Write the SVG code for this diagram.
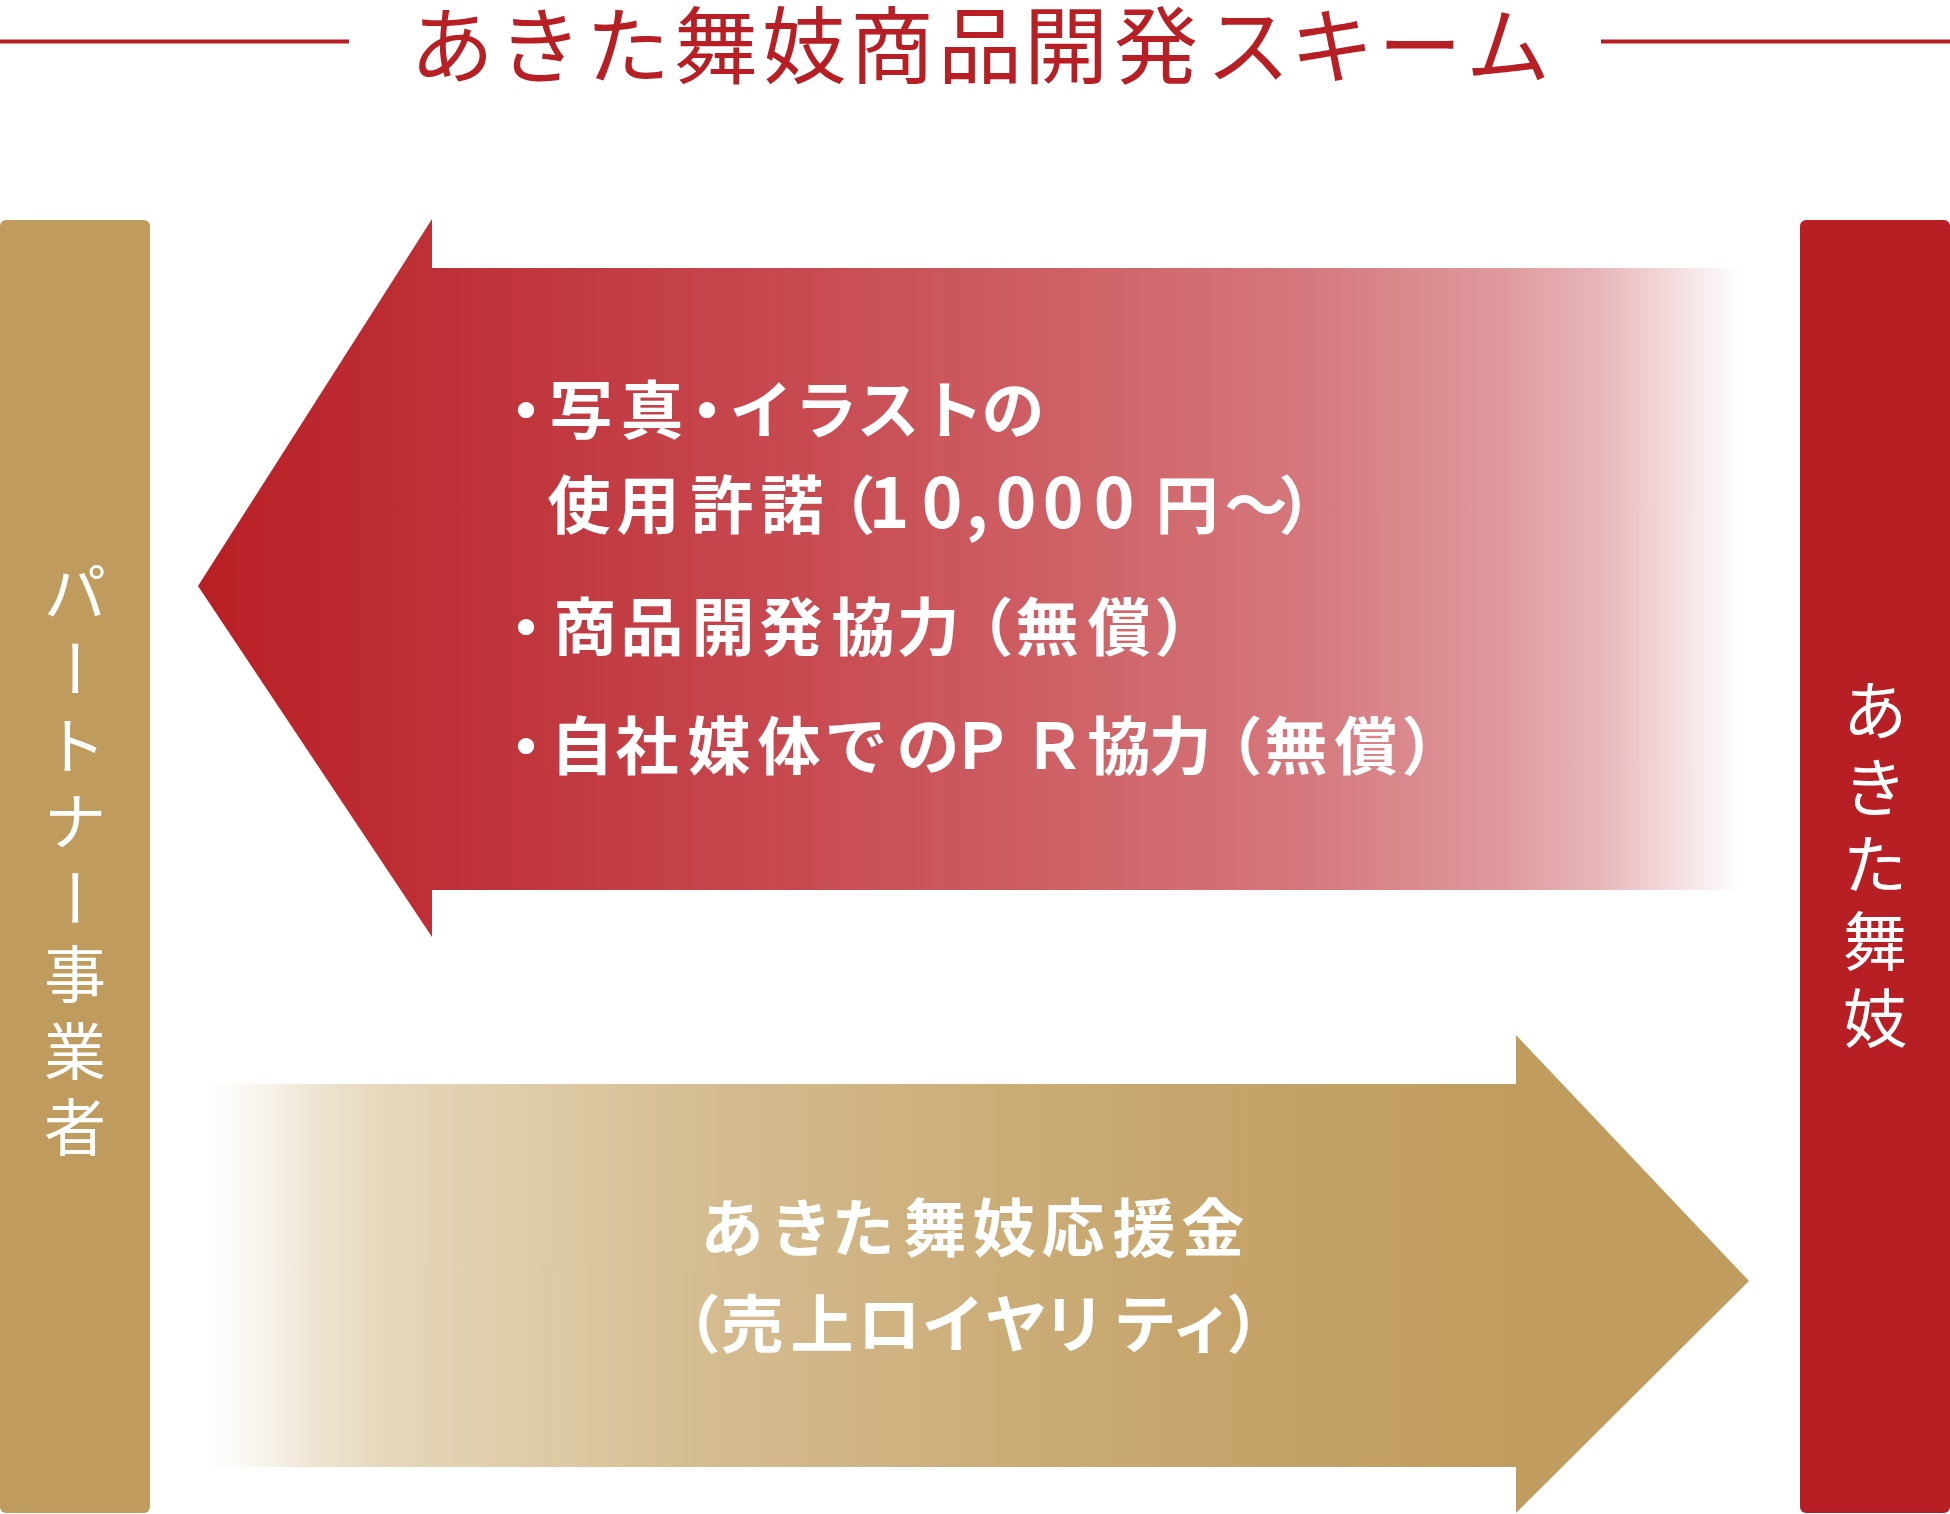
<svg xmlns="http://www.w3.org/2000/svg" width="1950" height="1514" viewBox="0 0 1950 1514">
  <style>
    .title { font-family: 'Noto Sans CJK JP', sans-serif; font-size: 84px; font-weight: 400; fill: #B81F24; }
    .col { font-family: 'Noto Sans CJK JP', sans-serif; font-weight: 400; fill: #FFFFFF; }
    .lbl { font-family: 'Noto Sans CJK JP', sans-serif; font-size: 63px; font-weight: 700; fill: #FFFFFF; }
    .num { font-size: 69px; }
    .rule { stroke: #B81F24; stroke-width: 4; }
  </style>
  <defs>
    <linearGradient id="redFade" gradientUnits="userSpaceOnUse" x1="198" y1="0" x2="1741" y2="0">
      <stop offset="0" stop-color="#B81F25"/>
      <stop offset="0.13" stop-color="#BD2D34"/>
      <stop offset="0.39" stop-color="#C84A51"/>
      <stop offset="0.584" stop-color="#CF6469"/>
      <stop offset="0.714" stop-color="#D5777C"/>
      <stop offset="0.844" stop-color="#DF999D"/>
      <stop offset="0.909" stop-color="#E8B6B9"/>
      <stop offset="0.973" stop-color="#F8EAEB"/>
      <stop offset="1" stop-color="#FFFFFF"/>
    </linearGradient>
    <linearGradient id="goldFade" gradientUnits="userSpaceOnUse" x1="207" y1="0" x2="1516" y2="0">
      <stop offset="0" stop-color="#FFFFFF"/>
      <stop offset="0.045" stop-color="#F8F3EB"/>
      <stop offset="0.088" stop-color="#EEE3D0"/>
      <stop offset="0.132" stop-color="#E6D8BD"/>
      <stop offset="0.219" stop-color="#E0CEAC"/>
      <stop offset="0.395" stop-color="#D4BB8F"/>
      <stop offset="0.606" stop-color="#CBAD78"/>
      <stop offset="0.836" stop-color="#C4A166"/>
      <stop offset="1" stop-color="#C09C5E"/>
    </linearGradient>
  </defs>

  <g id="title">
    <line class="rule" x1="0" y1="41.5" x2="349" y2="41.5"/>
    <line class="rule" x1="1601" y1="41.5" x2="1950" y2="41.5"/>
    <text class="title" text-anchor="middle" y="77" x="452 540 628 716 804 892 980 1066 1156 1248 1332 1420 1508">あきた舞妓商品開発スキーム</text>
  </g>

  <g id="node-partner">
    <rect x="0" y="220" width="150" height="1293" rx="6" fill="#BF9B5D"/>
    <g class="col" font-size="62" text-anchor="middle">
      <text x="75" y="615.6">パ</text>
      <text x="75" y="692.1" transform="rotate(90 75 668.5)">ー</text>
      <text x="75" y="768.6">ト</text>
      <text x="75" y="845.1">ナ</text>
      <text x="75" y="921.6" transform="rotate(90 75 898)">ー</text>
      <text x="75" y="998.1">事</text>
      <text x="75" y="1074.6">業</text>
      <text x="75" y="1151.1">者</text>
    </g>
  </g>

  <g id="node-maiko">
    <rect x="1800" y="220" width="150" height="1293" rx="6" fill="#B81F24"/>
    <g class="col" font-size="64" text-anchor="middle">
      <text x="1875" y="734.3">あ</text>
      <text x="1875" y="811.3">き</text>
      <text x="1875" y="888.3">た</text>
      <text x="1875" y="965.3">舞</text>
      <text x="1875" y="1042.3">妓</text>
    </g>
  </g>

  <g id="connectors">
    <g id="arrow-to-partner">
      <polygon points="198,586 432,219 432,268 1741,268 1741,890 432,890 432,937" fill="url(#redFade)"/>
      <text class="lbl" text-anchor="middle" y="433" x="526 581 652 707 761 826 888 952 1013">・写真・イラストの</text>
      <text class="lbl" text-anchor="middle" y="528" x="579 648 722 792 844">使用許諾（<tspan class="num" x="889 942 977 1016 1063 1114">10,000</tspan><tspan x="1187 1256 1310">円～）</tspan></text>
      <text class="lbl" text-anchor="middle" y="650" x="526 585 652 723 791 863 928 982 1047 1119 1186">・商品開発協力（無償）</text>
      <text class="lbl" text-anchor="middle" y="769" x="526 582 647 719 789 856 928 982 1054 1119 1180 1231 1296 1366 1433">・自社媒体でのＰＲ協力（無償）</text>
    </g>
    <g id="arrow-to-maiko">
      <polygon points="207,1084 1516,1084 1516,1035 1749,1281 1516,1513 1516,1467 207,1467" fill="url(#goldFade)"/>
      <text class="lbl" text-anchor="middle" y="1251" x="732 801 863 935 1004 1073 1144 1213">あきた舞妓応援金</text>
      <text class="lbl" text-anchor="middle" y="1347" x="689 752 822 889 953 1016 1074 1145 1202 1258">（売上ロイヤリティ）</text>
    </g>
  </g>
</svg>
